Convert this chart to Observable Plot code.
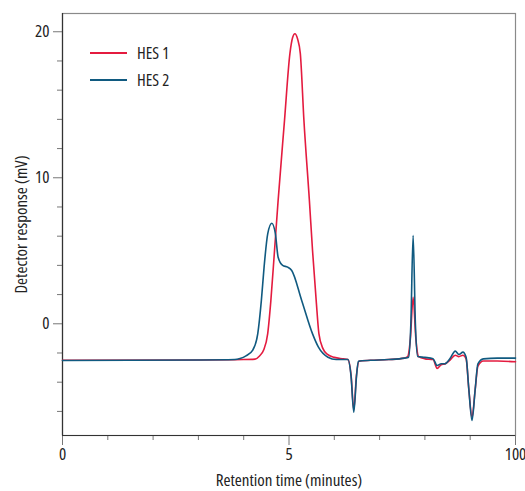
<!DOCTYPE html>
<html>
<head>
<meta charset="utf-8">
<script src="https://cdn.jsdelivr.net/npm/d3@7"></script>
<script src="https://cdn.jsdelivr.net/npm/@observablehq/plot@0.6"></script>
<style>
  html, body { margin: 0; padding: 0; background: #fff; }
  #wrap { position: relative; width: 525px; height: 491px; font-family: "Open Sans", Roboto, sans-serif; font-stretch: 75%; }
  #wrap svg, #wrap svg text { font-family: "Open Sans", Roboto, sans-serif; font-stretch: 75%; }
  .legend { position: absolute; left: 90px; top: 39px; font-size: 16.5px; color: #222; }
  .legend .row { display: flex; align-items: center; height: 27px; }
  .legend .sw { width: 37px; height: 0; border-top: 2px solid; margin-right: 10px; }
</style>
</head>
<body>
<div id="wrap"></div>
<script>
const seriesNames = ["HES 1", "HES 2"];
const seriesColors = ["#e41b3f", "#105a80"];

const hes1Time = [0, 3.0, 4.0, 4.25, 4.35, 4.44, 4.53, 4.60, 4.68, 4.76, 4.90, 5.02, 5.08, 5.13, 5.19, 5.25, 5.33, 5.45, 5.52, 5.60, 5.66, 5.75, 5.85, 6.0, 6.2, 6.30, 6.37, 6.43, 6.49, 6.55, 6.8, 7.2, 7.55, 7.62, 7.68, 7.74, 7.80, 7.86, 8.0, 8.18, 8.27, 8.36, 8.44, 8.55, 8.67, 8.75, 8.84, 8.91, 8.97, 9.04, 9.11, 9.17, 9.29, 9.6, 10];
const hes1Values = [-2.5, -2.48, -2.45, -2.42, -2.2, -1.8, -0.67, 1.6, 5.0, 8.45, 13.9, 18.5, 19.6, 19.86, 19.5, 18.5, 13.9, 8.45, 5.0, 1.6, -0.67, -1.7, -2.1, -2.3, -2.4, -2.45, -3.5, -5.9, -3.5, -2.55, -2.5, -2.45, -2.35, -2.25, -1.0, 1.82, -1.0, -2.25, -2.4, -2.45, -3.05, -2.8, -2.75, -2.5, -2.15, -2.25, -2.15, -2.4, -4.5, -6.4, -4.5, -2.9, -2.55, -2.55, -2.6];

const hes2Time = [0, 3.0, 3.8, 3.92, 4.05, 4.2, 4.31, 4.39, 4.45, 4.53, 4.62, 4.70, 4.76, 4.86, 4.97, 5.06, 5.28, 5.52, 5.65, 5.86, 6.04, 6.30, 6.37, 6.43, 6.49, 6.53, 6.8, 7.2, 7.55, 7.64, 7.69, 7.74, 7.79, 7.84, 8.0, 8.18, 8.27, 8.36, 8.44, 8.55, 8.67, 8.75, 8.84, 8.91, 8.97, 9.04, 9.11, 9.17, 9.29, 9.6, 10];
const hes2Values = [-2.51, -2.48, -2.45, -2.38, -2.2, -1.8, -0.69, 1.6, 3.88, 6.16, 6.89, 6.16, 4.56, 4.0, 3.88, 3.65, 1.6, -0.69, -1.6, -2.29, -2.45, -2.45, -3.6, -6.05, -3.6, -2.56, -2.5, -2.45, -2.35, -2.29, 0, 6.05, 0, -2.24, -2.3, -2.4, -2.86, -2.74, -2.74, -2.4, -1.87, -2.1, -1.94, -2.29, -4.5, -6.62, -4.5, -2.74, -2.4, -2.35, -2.35];

const xMajorTicks = [0, 5, 10];
const xTickLabels = ["0", "5", "100"];
const xMinorTicks = [1, 2, 3, 4, 6, 7, 8, 9];
const yMajorTicks = [0, 10, 20];
const yTickLabels = ["0", "10", "20"];
const yMinorTicks = [-6, -4, -2, 2, 4, 6, 8, 12, 14, 16, 18];

const hes1 = hes1Time.map((t, i) => ({t, v: hes1Values[i], s: seriesNames[0]}));
const hes2 = hes2Time.map((t, i) => ({t, v: hes2Values[i], s: seriesNames[1]}));

const chart = Plot.plot({
  width: 525,
  height: 491,
  marginLeft: 62,
  marginRight: 10,
  marginTop: 13,
  marginBottom: 56,
  style: {fontSize: "16px", color: "#222", background: "#fff"},
  x: {domain: [0, 10]},
  y: {domain: [-7.65, 21.25]},
  color: {domain: seriesNames, range: seriesColors},
  marks: [
    Plot.frame({stroke: "#8a8a8a", strokeWidth: 1.2}),
    Plot.axisX(xMinorTicks, {tickSize: 5, stroke: "#777", text: null, label: null}),
    Plot.axisX(xMajorTicks, {tickSize: 10, stroke: "#777", tickPadding: 2, tickFormat: (d) => xTickLabels[xMajorTicks.indexOf(d)], fontSize: 17, label: "Retention time (minutes)", labelAnchor: "center", labelOffset: 50, labelArrow: "none"}),
    Plot.axisY(yMinorTicks, {tickSize: 5, stroke: "#777", text: null, label: null}),
    Plot.axisY(yMajorTicks, {tickSize: 9, stroke: "#777", tickPadding: 4, tickFormat: (d) => yTickLabels[yMajorTicks.indexOf(d)], fontSize: 17, label: "Detector response (mV)", labelAnchor: "center", labelOffset: 48, labelArrow: "none"}),
    Plot.ruleX([0], {stroke: "#333", strokeWidth: 1.2}),
    Plot.ruleY([-7.65], {stroke: "#333", strokeWidth: 1.2}),
    Plot.line(hes1, {x: "t", y: "v", stroke: "s", strokeWidth: 1.6, curve: "monotone-x"}),
    Plot.line(hes2, {x: "t", y: "v", stroke: "s", strokeWidth: 1.6, curve: "monotone-x"})
  ]
});

const wrap = document.getElementById("wrap");
wrap.appendChild(chart);
const legend = document.createElement("div");
legend.className = "legend";
seriesNames.forEach((name, i) => {
  const row = document.createElement("div");
  row.className = "row";
  const sw = document.createElement("span");
  sw.className = "sw";
  sw.style.borderTopColor = seriesColors[i];
  const label = document.createElement("span");
  label.textContent = name;
  row.appendChild(sw);
  row.appendChild(label);
  legend.appendChild(row);
});
wrap.appendChild(legend);
</script>
</body>
</html>
